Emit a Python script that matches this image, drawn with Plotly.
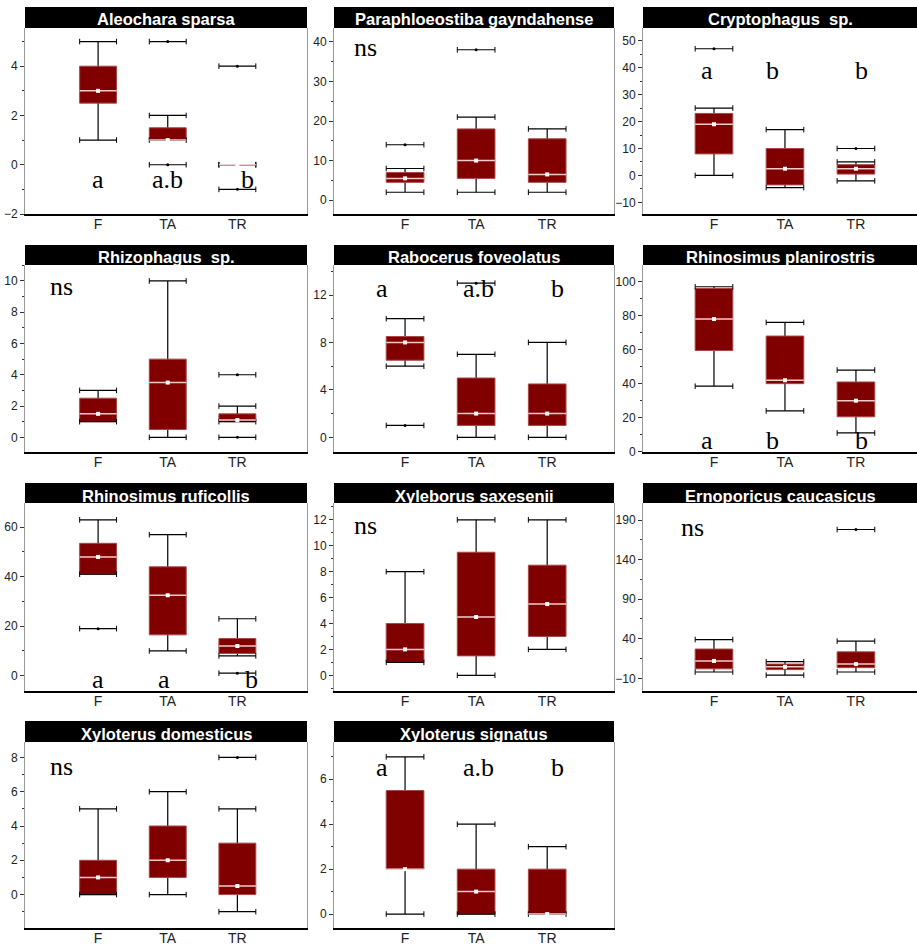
import plotly.graph_objects as go

groups = ["F", "TA", "TR"]
titles = ["Aleochara sparsa", "Paraphloeostiba gayndahense", "Cryptophagus\u00a0 sp.",
          "Rhizophagus\u00a0 sp.", "Rabocerus foveolatus", "Rhinosimus planirostris",
          "Rhinosimus ruficollis", "Xyleborus saxesenii", "Ernoporicus caucasicus",
          "Xyloterus domesticus", "Xyloterus signatus"]

# per panel, per group (F, TA, TR)
q1 = [[2.5, 1, 0], [4.5, 5.5, 4.5], [8, -3.5, 0.5], [1, 0.5, 1], [6.5, 1, 1], [59.5, 40, 20.5],
      [41, 16.5, 9], [1, 1.5, 3], [2, 1, 3.5], [0, 1, 0], [2, 0, 0]]
median = [[3, 1, 0], [5.5, 10, 6.5], [19, 2.5, 2.5], [1.5, 3.5, 1.1], [8, 2, 2], [78, 42, 30],
          [48, 32.5, 12], [2, 4.5, 5.5], [12, 4.5, 8], [1, 2, 0.5], [2, 1, 0]]
q3 = [[4, 1.5, 0], [7, 18, 15.5], [23, 10, 4], [2.5, 5, 1.5], [8.5, 5, 4.5], [96, 68, 41],
      [53.5, 44, 15], [4, 9.5, 8.5], [27, 8, 23.5], [2, 4, 3], [5.5, 2, 2]]
lower = [[1, 1, 0], [2, 2, 2], [0, -4.5, -2], [1, 0, 1], [6, 0, 0], [38.5, 24, 11],
         [41, 10, 8], [1, 0, 2], [-2, -6, -2], [0, 0, -1], [0, 0, 0]]
upper = [[5, 2, 0], [8, 21, 18], [25, 17, 5], [3, 10, 2], [10, 7, 8], [97, 76, 48],
         [63, 57, 23], [8, 12, 12], [39, 11, 37], [5, 6, 5], [7, 4, 3]]
outliers = [[[], [0, 5], [4, -1]], [[14], [38], []], [[47], [], [10]], [[], [], [4, 0]],
            [[1], [13], []], [[], [], []], [[19], [], [1]], [[], [], []], [[], [], [178]],
            [[], [], [8]], [[], [], []]]
letters = [["a", "a.b", "b"], ["ns"], ["a", "b", "b"], ["ns"], ["a", "a.b", "b"], ["a", "b", "b"],
           ["a", "a", "b"], ["ns"], ["ns"], ["ns"], ["a", "a.b", "b"]]

# ---- layout / style (not data) ----
W, H = 917, 946
col_px = [(25, 307), (334, 614), (643, 917)]
row_px = [(28, 214), (265, 452), (503, 691), (742, 928)]
bar_top = [7, 245, 483, 721]
xranges = [(-1.05, 3.0), (-1.0, 2.94), (-1.0, 2.86)]
yranges = [(-2, 5.55), (-3.5, 43.5), (-14.3, 54.7), (-0.94, 11.02), (-1.24, 14.53), (-0.2, 109.8),
           (-6.2, 69.8), (-1.21, 13.3), (-26, 211.5), (-1.95, 8.9), (-0.62, 7.66)]
dticks = [2, 10, 10, 2, 4, 20, 20, 2, 50, 2, 2]
tick0s = [0, 0, 0, 0, 0, 0, 0, 0, -10, 0, 0]
letter_x = [[0, 1.0, 2.14], [-0.55], [-0.1, 0.83, 2.08], [-0.53], [-0.33, 1.03, 2.14],
            [-0.1, 0.83, 2.08], [0, 0.94, 2.2], [-0.55], [-0.3], [-0.53], [-0.33, 1.03, 2.14]]
letter_ypx = [179.3, 47, 70, 287, 288.3, 440, 679.3, 525.3, 527, 766, 767]

BOX = "#800000"
hw = 0.265

fig = go.Figure()
layout = dict(width=W, height=H, margin=dict(l=0, r=0, t=0, b=0, autoexpand=False),
              paper_bgcolor="white", plot_bgcolor="white", showlegend=False)
shapes, annotations = [], []

for n in range(11):
    r, c = divmod(n, 3)
    sfx = "" if n == 0 else str(n + 1)
    xa, ya = "x" + sfx, "y" + sfx
    wx, wy, bx, by, cx, cy = [], [], [], [], [], []
    ox, oy, odx, ody, mx, my, mdx, mdy, ex, ey = [], [], [], [], [], [], [], [], [], []
    for i in range(3):
        a, m, b, lo, hi = q1[n][i], median[n][i], q3[n][i], lower[n][i], upper[n][i]
        wx += [i, i, None]; wy += [lo, hi, None]
        bx += [i - hw, i + hw, i + hw, i - hw, i - hw, None]
        by += [a, a, b, b, a, None]
        for v in (lo, hi):
            cx += [i - hw, i + hw, None]; cy += [v, v, None]
            ex += [i - hw, i + hw]; ey += [v, v]
        mx += [i - hw, i + hw, None]; my += [m, m, None]
        mdx.append(i); mdy.append(m)
        for v in outliers[n][i]:
            ox += [i - hw, i + hw, None]; oy += [v, v, None]
            odx.append(i); ody.append(v)
            ex += [i - hw, i + hw]; ey += [v, v]
    common = dict(xaxis=xa, yaxis=ya, hoverinfo="skip")
    fig.add_trace(go.Scatter(x=wx, y=wy, mode="lines", line=dict(color="black", width=1.2), **common))
    fig.add_trace(go.Scatter(x=bx, y=by, mode="lines", fill="toself", fillcolor=BOX,
                             line=dict(color="#a84848", width=1), **common))
    fig.add_trace(go.Scatter(x=cx, y=cy, mode="lines", line=dict(color="black", width=1.2), **common))
    fig.add_trace(go.Scatter(x=ox, y=oy, mode="lines", line=dict(color="black", width=1.2), **common))
    fig.add_trace(go.Scatter(x=ex, y=ey, mode="markers",
                             marker=dict(symbol="line-ns", size=4, line=dict(color="black", width=1)), **common))
    fig.add_trace(go.Scatter(x=odx, y=ody, mode="markers",
                             marker=dict(symbol="circle", size=3, color="black"), **common))
    fig.add_trace(go.Scatter(x=mx, y=my, mode="lines", line=dict(color="#f2cccc", width=1.5), **common))
    fig.add_trace(go.Scatter(x=mdx, y=mdy, mode="markers",
                             marker=dict(symbol="square", size=4, color="white"), **common))

    x0, x1 = col_px[c]
    top, bot = row_px[r]
    layout["xaxis" + sfx] = dict(
        domain=[x0 / W, x1 / W], anchor=ya, range=list(xranges[c]),
        tickmode="array", tickvals=[0, 1, 2], ticktext=groups, ticks="",
        ticklabelstandoff=-4,
        showline=True, linecolor="black", linewidth=2, showgrid=False, zeroline=False,
        automargin=False,
        tickfont=dict(family="Liberation Sans, Arial", size=14, color="#222"), fixedrange=True)
    layout["yaxis" + sfx] = dict(
        domain=[1 - bot / H, 1 - top / H], anchor=xa, range=list(yranges[n]),
        tick0=tick0s[n], dtick=dticks[n], ticks="outside", ticklen=4, tickcolor="#333",
        minor=dict(tick0=tick0s[n], dtick=dticks[n] / 2, ticks="outside", ticklen=2,
                   tickcolor="#333", showgrid=False),
        showline=True, mirror=True, linecolor="#999", linewidth=1,
        showgrid=False, zeroline=False, automargin=False,
        tickfont=dict(family="Liberation Sans, Arial", size=12, color="#222"), fixedrange=True)

    # title bar
    shapes.append(dict(type="rect", xref="paper", yref="paper", x0=x0 / W, x1=x1 / W,
                       y0=1 - top / H, y1=1 - bar_top[r] / H, fillcolor="black", line=dict(width=0),
                       layer="above"))
    annotations.append(dict(text="<b>" + titles[n] + "</b>", xref="paper", yref="paper",
                            x=(x0 + x1) / 2 / W, y=1 - (bar_top[r] + 12.5) / H,
                            xanchor="center", yanchor="middle", showarrow=False,
                            font=dict(family="Liberation Sans, Arial", size=16.5, color="white")))
    # significance letters
    for k, t in enumerate(letters[n]):
        annotations.append(dict(text=t, xref=xa, yref=ya + " domain", x=letter_x[n][k],
                                y=(bot - letter_ypx[n]) / (bot - top),
                                xanchor="center", yanchor="middle", showarrow=False,
                                font=dict(family="Liberation Serif, Times New Roman", size=26,
                                          color="black")))

layout["shapes"] = shapes
layout["annotations"] = annotations
fig.update_layout(**layout)
fig.write_html("out.html", config={"displayModeBar": False},
               post_script="document.body.style.margin='0';document.body.style.overflow='hidden';")
